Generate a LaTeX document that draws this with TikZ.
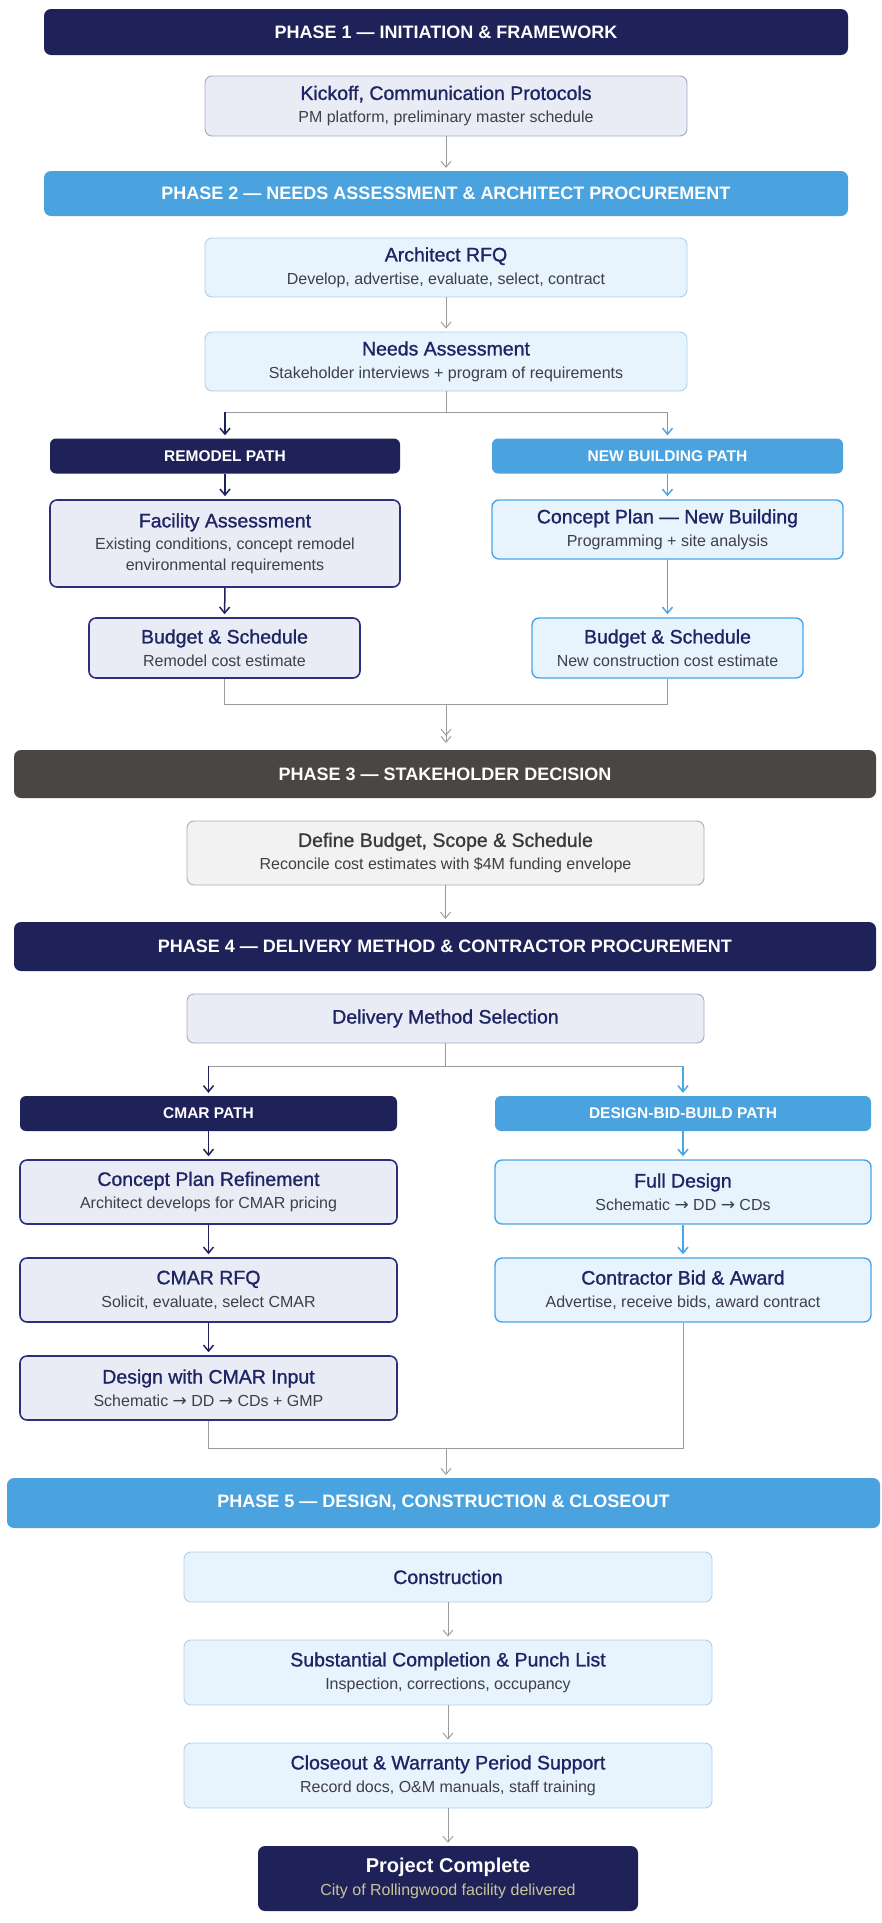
\documentclass[tikz,border=0pt]{standalone}
\usepackage{fontspec}
\setmainfont{Liberation Sans}
\newfontfamily\ttlfont[FakeBold=1.1]{Liberation Sans}
\newfontfamily\djv{DejaVu Sans}
\usetikzlibrary{arrows.meta}
\definecolor{navy}{HTML}{1F2259}
\definecolor{lblue}{HTML}{4AA3DE}
\definecolor{pthree}{HTML}{4A4643}
\definecolor{lavfill}{HTML}{E9ECF5}
\definecolor{lavborder}{HTML}{A4A9CF}
\definecolor{bluefill}{HTML}{E7F3FD}
\definecolor{blueborder}{HTML}{A9D2F0}
\definecolor{strongblue}{HTML}{4AA6E6}
\definecolor{navyborder}{HTML}{2C2F7C}
\definecolor{grayfill}{HTML}{F2F2F2}
\definecolor{grayborder}{HTML}{ADADAD}
\definecolor{conn}{HTML}{9B9B9B}
\definecolor{titlenavy}{HTML}{1E2464}
\definecolor{subgray}{HTML}{3F3F47}
\definecolor{khaki}{HTML}{C9C39B}
\definecolor{darkgraytxt}{HTML}{3A3A3A}
\newcommand{\ttl}[1]{{\ttlfont\fontsize{19.5}{23}\selectfont #1}}
\newcommand{\sbt}[1]{{\fontsize{16}{23}\selectfont\color{subgray}#1}}
\newcommand{\rarr}{{\djv\fontsize{17}{23}\selectfont →}}
\tikzset{
  base/.style={rectangle, rounded corners=7pt, inner sep=0pt, align=center, font=\fontsize{16}{23}\selectfont},
  phasebar/.style={base, text=white, font=\bfseries\fontsize{18}{22}\selectfont, minimum height=#1},
  pathbar/.style={base, rounded corners=6pt, text=white, font=\bfseries\fontsize{15.5}{19}\selectfont, minimum width=#1, minimum height=35pt},
  lavbox/.style={base, fill=lavfill, draw=lavborder, line width=0.9pt, text=titlenavy},
  bluebox/.style={base, fill=bluefill, draw=blueborder, line width=0.9pt, text=titlenavy},
  navybox/.style={base, fill=lavfill, draw=navyborder, line width=1.6pt, text=titlenavy},
  sbluebox/.style={base, fill=bluefill, draw=strongblue, line width=1.4pt, text=titlenavy},
  graybox/.style={base, fill=grayfill, draw=grayborder, line width=0.9pt, text=darkgraytxt},
  garrow/.style={draw=conn, line width=0.9pt, -{Straight Barb[length=6pt,width=10pt]}, shorten >=3pt},
  gline/.style={draw=conn, line width=0.9pt},
  narrow/.style={draw=navy, line width=1.5pt, -{Straight Barb[length=6pt,width=10pt]}, shorten >=3pt},
  barrow/.style={draw=strongblue, line width=1.5pt, -{Straight Barb[length=6pt,width=10pt]}, shorten >=3pt},
}
\begin{document}
\begin{tikzpicture}[x=1pt,y=-1pt]
\useasboundingbox[fill=white] (0,0) rectangle (882,1923);

% Phase 1
\node[phasebar=46pt, fill=navy, minimum width=804pt] (p1) at (446,32) {PHASE 1 — INITIATION \& FRAMEWORK};
\node[lavbox, minimum width=482pt, minimum height=60pt] (k) at (446,106) {\ttl{Kickoff, Communication Protocols}\\\sbt{PM platform, preliminary master schedule}};

% Phase 2
\node[phasebar=45pt, fill=lblue, minimum width=804pt] (p2) at (446,193.5) {PHASE 2 — NEEDS ASSESSMENT \& ARCHITECT PROCUREMENT};
\node[bluebox, minimum width=482pt, minimum height=59pt] (ar) at (446,267.5) {\ttl{Architect RFQ}\\\sbt{Develop, advertise, evaluate, select, contract}};
\node[bluebox, minimum width=482pt, minimum height=59pt] (na) at (446,361.5) {\ttl{Needs Assessment}\\\sbt{Stakeholder interviews + program of requirements}};

\node[pathbar=350pt, fill=navy] (rp) at (225,456) {REMODEL PATH};
\node[pathbar=351pt, fill=lblue] (nb) at (667.5,456) {NEW BUILDING PATH};

\node[navybox, minimum width=350pt, minimum height=87pt] (fa) at (225,543.5) {\ttl{Facility Assessment}\\[-1pt]\sbt{Existing conditions, concept remodel}\\[-2pt]\sbt{environmental requirements}};
\node[sbluebox, minimum width=351pt, minimum height=59pt] (cp) at (667.5,529.5) {\ttl{Concept Plan — New Building}\\\sbt{Programming + site analysis}};

\node[navybox, minimum width=271pt, minimum height=60pt] (bl) at (224.5,648) {\ttl{Budget \& Schedule}\\\sbt{Remodel cost estimate}};
\node[sbluebox, minimum width=271pt, minimum height=60pt] (br) at (667.5,648) {\ttl{Budget \& Schedule}\\\sbt{New construction cost estimate}};

% Phase 3
\node[phasebar=48pt, fill=pthree, minimum width=862pt] (p3) at (445,774) {PHASE 3 — STAKEHOLDER DECISION};
\node[graybox, minimum width=517pt, minimum height=64pt] (db) at (445.5,853) {{\ttlfont\fontsize{19.5}{23}\selectfont\color{darkgraytxt}Define Budget, Scope \& Schedule}\\\sbt{Reconcile cost estimates with \$4M funding envelope}};

% Phase 4
\node[phasebar=49pt, fill=navy, minimum width=862pt] (p4) at (445,946.5) {PHASE 4 — DELIVERY METHOD \& CONTRACTOR PROCUREMENT};
\node[lavbox, minimum width=517pt, minimum height=49pt] (dm) at (445.5,1018.5) {\ttl{Delivery Method Selection}};

\node[pathbar=377pt, fill=navy] (cm) at (208.5,1113.5) {CMAR PATH};
\node[pathbar=376pt, fill=lblue] (dbb) at (683,1113.5) {DESIGN-BID-BUILD PATH};

\node[navybox, minimum width=377pt, minimum height=64pt] (cpr) at (208.5,1192) {\ttl{Concept Plan Refinement}\\\sbt{Architect develops for CMAR pricing}};
\node[sbluebox, minimum width=376pt, minimum height=64pt] (fd) at (683,1192) {\ttl{Full Design}\\\sbt{Schematic \rarr{} DD \rarr{} CDs}};
\node[navybox, minimum width=377pt, minimum height=64pt] (cr) at (208.5,1290) {\ttl{CMAR RFQ}\\\sbt{Solicit, evaluate, select CMAR}};
\node[sbluebox, minimum width=376pt, minimum height=64pt] (cb) at (683,1290) {\ttl{Contractor Bid \& Award}\\\sbt{Advertise, receive bids, award contract}};
\node[navybox, minimum width=377pt, minimum height=64pt] (dc) at (208.5,1388) {\ttl{Design with CMAR Input}\\\sbt{Schematic \rarr{} DD \rarr{} CDs + GMP}};

% Phase 5
\node[phasebar=50pt, fill=lblue, minimum width=873pt] (p5) at (443.5,1503) {PHASE 5 — DESIGN, CONSTRUCTION \& CLOSEOUT};
\node[bluebox, minimum width=528pt, minimum height=50pt] (co) at (448,1577) {\ttl{Construction}};
\node[bluebox, minimum width=528pt, minimum height=65pt] (sc) at (448,1672.5) {\ttl{Substantial Completion \& Punch List}\\\sbt{Inspection, corrections, occupancy}};
\node[bluebox, minimum width=528pt, minimum height=65pt] (cw) at (448,1775.5) {\ttl{Closeout \& Warranty Period Support}\\\sbt{Record docs, O\&M manuals, staff training}};
\node[base, fill=navy, minimum width=380pt, minimum height=65pt] (pc) at (448,1878.5) {{\bfseries\fontsize{20}{23}\selectfont\color{white}Project Complete}\\{\fontsize{16}{23}\selectfont\color{khaki}City of Rollingwood facility delivered}};

% Connectors
\draw[garrow] (k.south) -- (p2.north);
\draw[garrow] (ar.south) -- (na.north);

\coordinate (j1) at (446,412);
\coordinate (j1l) at (225,412);
\coordinate (j1r) at (667.5,412);
\draw[gline] (na.south) -- (j1);
\draw[gline] (j1l) -- (j1r);
\draw[narrow] (j1l) -- (rp.north);
\draw[barrow] (j1r) -- (nb.north);

\draw[narrow] (rp.south) -- (fa.north);
\draw[narrow] (fa.south) -- (bl.north);
\draw[barrow] (nb.south) -- (cp.north);
\draw[barrow] (cp.south) -- (br.north);

\coordinate (j2l) at (224.5,704);
\coordinate (j2r) at (667.5,704);
\coordinate (j2) at (446,704);
\coordinate (j2e) at (446,746);
\draw[gline] (bl.south) -- (j2l) -- (j2r) -- (br.south);
\draw[draw=conn, line width=0.9pt, -{Straight Barb[length=6pt,width=10pt] Straight Barb[length=6pt,width=10pt,sep=3pt]}] (j2) -- (j2e);

\draw[garrow] (db.south) -- (db.south |- p4.north);

\coordinate (j3) at (445.5,1066);
\coordinate (j3l) at (208.5,1066);
\coordinate (j3r) at (683,1066);
\draw[gline] (dm.south) -- (j3);
\draw[gline] (j3l) -- (j3r);
\draw[narrow] (j3l) -- (cm.north);
\draw[barrow] (j3r) -- (dbb.north);

\draw[narrow] (cm.south) -- (cpr.north);
\draw[narrow] (cpr.south) -- (cr.north);
\draw[narrow] (cr.south) -- (dc.north);
\draw[barrow] (dbb.south) -- (fd.north);
\draw[barrow] (fd.south) -- (cb.north);

\coordinate (j4l) at (208.5,1448);
\coordinate (j4r) at (683,1448);
\coordinate (j4) at (446,1448);
\coordinate (j4e) at (446,1478);
\draw[gline] (dc.south) -- (j4l) -- (j4r) -- (cb.south);
\draw[garrow] (j4) -- (j4e);

\draw[garrow] (co.south) -- (sc.north);
\draw[garrow] (sc.south) -- (cw.north);
\draw[garrow] (cw.south) -- (pc.north);
\end{tikzpicture}
\end{document}
